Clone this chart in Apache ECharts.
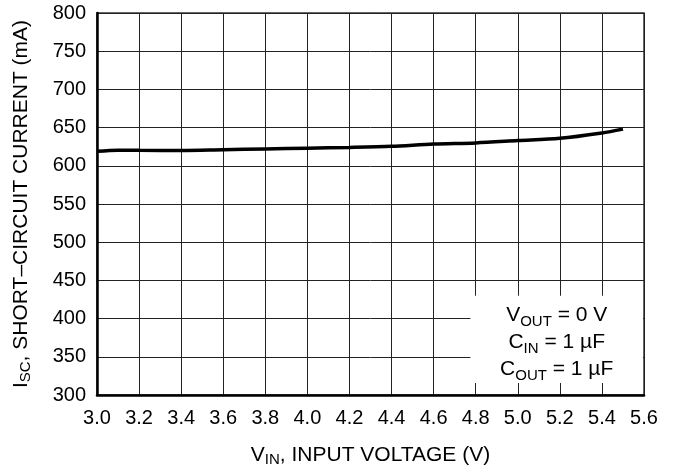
<!DOCTYPE html>
<html>
<head>
<meta charset="utf-8">
<script src="https://cdn.jsdelivr.net/npm/echarts@6/dist/echarts.min.js"></script>
<style>
  html, body { margin: 0; padding: 0; background: #fff; }
  #chart { width: 674px; height: 472px; }
</style>
</head>
<body>
<div id="chart"></div>
<script>
// 输入电压 (V) 和短路电流 (mA)
const vin = [3.0, 3.1, 3.2, 3.4, 3.6, 3.8, 4.0, 4.2, 4.4, 4.6, 4.8, 5.0, 5.2, 5.4, 5.5]
const isc = [619, 620.5, 620.3, 620, 621, 622, 623, 624, 625.5, 628.5, 630, 633, 636, 643, 648]

// 条件注释框 (坐标轴单位)
const noteBoxX = [4.775, 5.595]
const noteBoxY = [315.6, 430]
const noteLines = [
  '{n|V}{s|OUT}{n| = 0 V}',
  '{n|C}{s|IN}{n| = 1 µF}',
  '{n|C}{s|OUT}{n| = 1 µF}',
]

const font = 'Liberation Sans, Arial, sans-serif'
const richSub = {
  n: { fontSize: 21, lineHeight: 24, color: '#000', fontFamily: font },
  s: { fontSize: 15, lineHeight: 12, verticalAlign: 'bottom', color: '#000', fontFamily: font },
}
const noteRich = {
  n: { fontSize: 21, lineHeight: 27, color: '#000', fontFamily: font },
  s: { fontSize: 15, lineHeight: 15, verticalAlign: 'bottom', color: '#000', fontFamily: font },
}

let myChart = echarts.init(document.getElementById('chart'))

let data = vin.map((v, i) => [v, isc[i]])

let option = {
  animation: false,
  grid: {
    left: 97,
    top: 13,
    right: 30,
    bottom: 75,
    show: true,
    borderColor: '#333',
    borderWidth: 1.5,
  },
  xAxis: {
    type: 'value',
    min: 3.0,
    max: 5.6,
    interval: 0.2,
    name: '{n|V}{s|IN}{n|, INPUT VOLTAGE (V)}',
    nameLocation: 'middle',
    nameGap: 48,
    nameTextStyle: { rich: richSub },
    axisLine: { show: true, onZero: false, lineStyle: { color: '#000', width: 2.5 } },
    axisTick: { show: false },
    axisLabel: {
      color: '#000',
      fontSize: 20,
      fontFamily: font,
      margin: 13,
      formatter: (v) => v.toFixed(1),
    },
    splitLine: { show: true, lineStyle: { color: '#222', width: 1 } },
  },
  yAxis: {
    type: 'value',
    min: 300,
    max: 800,
    interval: 50,
    name: '{n|I}{s|SC}{n|, SHORT–CIRCUIT CURRENT (mA)}',
    nameLocation: 'middle',
    nameGap: 64,
    nameTextStyle: { rich: richSub },
    axisLine: { show: true, lineStyle: { color: '#000', width: 2.5 } },
    axisTick: { show: false },
    axisLabel: {
      color: '#000',
      fontSize: 20,
      fontFamily: font,
      margin: 11,
    },
    splitLine: { show: true, lineStyle: { color: '#222', width: 1 } },
  },
  series: [
    {
      type: 'line',
      data: data,
      smooth: 0.3,
      symbol: 'none',
      lineStyle: { color: '#000', width: 3.5 },
      markArea: {
        silent: true,
        itemStyle: { color: '#fff', opacity: 1 },
        label: {
          show: true,
          position: 'inside',
          align: 'center',
          offset: [0, 3],
          formatter: noteLines.join('\n'),
          rich: noteRich,
        },
        data: [
          [
            { coord: [noteBoxX[0], noteBoxY[1]] },
            { coord: [noteBoxX[1], noteBoxY[0]] },
          ],
        ],
      },
    },
  ],
}
myChart.setOption(option)
</script>
</body>
</html>
